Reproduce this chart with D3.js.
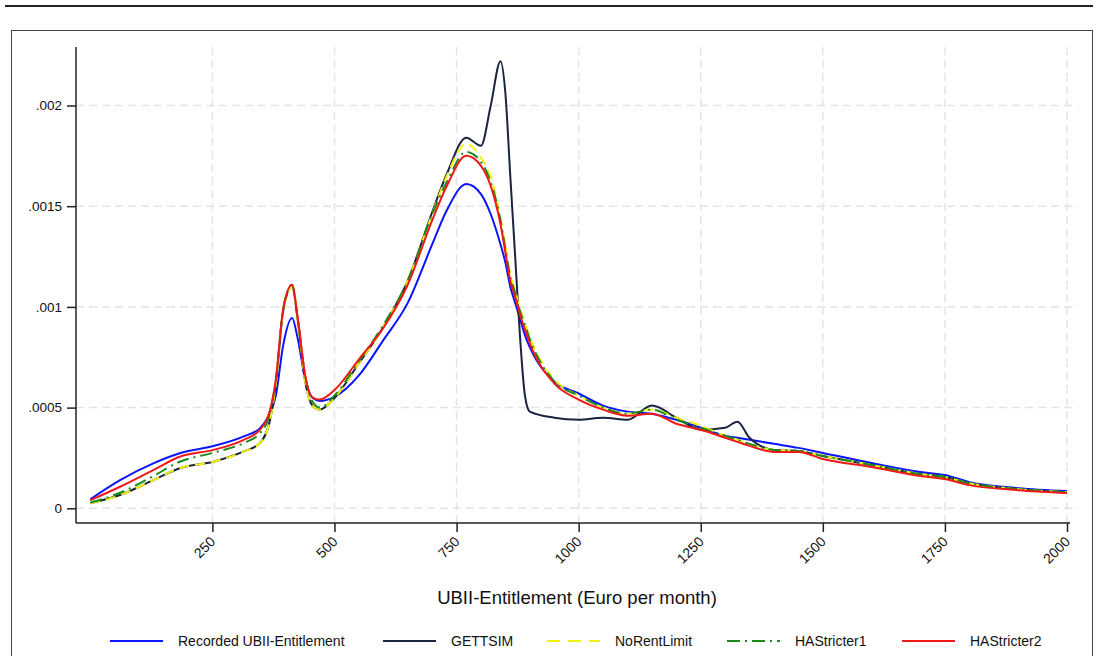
<!DOCTYPE html>
<html>
<head>
<meta charset="utf-8">
<script src="https://cdn.jsdelivr.net/npm/d3@7"></script>
<style>
  html, body { margin: 0; padding: 0; background: #fff; }
  svg { display: block; font-family: "Liberation Sans", Arial, sans-serif; }
</style>
</head>
<body>
<div id="chart"></div>
<script>
// x grid (Euro per month) shared by all series
const grid = [0, 61, 129, 183, 252, 313, 347, 368, 380, 395, 413, 425, 440, 455, 470, 500, 550, 600, 650, 700,
  730, 770, 800, 820, 840, 850, 860, 870, 880, 890, 900, 950, 1000, 1050, 1100, 1150, 1200, 1250, 1300, 1325,
  1350, 1400, 1450, 1500, 1600, 1700, 1750, 1800, 1900, 2000];

// densities
const recorded = [0.000045, 0.000140, 0.000223, 0.000273, 0.000309, 0.000356, 0.000397, 0.000472, 0.00056, 0.00081,
  0.000945, 0.00084, 0.00064, 0.00055, 0.000533, 0.000553, 0.00066, 0.000835, 0.00102, 0.00131,
  0.00148, 0.00161, 0.00156, 0.00146, 0.00131, 0.00122, 0.00110, 0.00102, 0.00094, 0.00086,
  0.00080, 0.00063, 0.00057, 0.00051, 0.00048, 0.00047, 0.00044, 0.00040, 0.00036, 0.00035,
  0.00034, 0.00032, 0.00030, 0.000275, 0.000225, 0.00018, 0.000165, 0.00013, 0.00010, 0.000086];

const gettsim = [0.000025, 0.000066, 0.000140, 0.000199, 0.000231, 0.000281, 0.000323, 0.000438, 0.00062, 0.00098,
  0.00110, 0.00093, 0.00063, 0.00051, 0.00049, 0.000548, 0.00072, 0.00090, 0.00113, 0.00147,
  0.00166, 0.00184, 0.00180, 0.00200, 0.00222, 0.00206, 0.00165, 0.00125, 0.00085, 0.00056,
  0.00048, 0.00045, 0.00044, 0.00045, 0.00044, 0.00051, 0.00045, 0.00039, 0.00040, 0.00043,
  0.00035, 0.00029, 0.000285, 0.00026, 0.000215, 0.00017, 0.000155, 0.000125, 0.000095, 0.00008];

const noRentLimit = [0.000025, 0.000066, 0.000140, 0.000199, 0.000231, 0.000281, 0.000323, 0.000438, 0.00062, 0.00098,
  0.00110, 0.00093, 0.00063, 0.00051, 0.00049, 0.000548, 0.00072, 0.00090, 0.00113, 0.00146,
  0.00165, 0.00181, 0.00174, 0.00165, 0.00144, 0.00130, 0.00116, 0.00108, 0.00099, 0.00092,
  0.00085, 0.00064, 0.00056, 0.00050, 0.00047, 0.00049, 0.00045, 0.00041, 0.00036, 0.00034,
  0.00032, 0.00029, 0.000285, 0.00026, 0.000215, 0.00017, 0.000155, 0.000125, 0.000095, 0.00008];

const haStricter1 = [0.000028, 0.000077, 0.000160, 0.000231, 0.000276, 0.000323, 0.000372, 0.000472, 0.00064, 0.00099,
  0.00111, 0.00094, 0.00066, 0.00053, 0.00050, 0.00056, 0.00073, 0.00091, 0.00113, 0.00146,
  0.00162, 0.00177, 0.00172, 0.00162, 0.00143, 0.00129, 0.00115, 0.00107, 0.00098, 0.00091,
  0.00084, 0.00063, 0.00056, 0.00050, 0.00047, 0.00049, 0.00044, 0.00040, 0.00036, 0.00034,
  0.00032, 0.00029, 0.000285, 0.00026, 0.000215, 0.00017, 0.000155, 0.000125, 0.000095, 0.00008];

const haStricter2 = [0.000040, 0.000107, 0.000190, 0.000256, 0.000290, 0.000339, 0.000389, 0.000488, 0.00064, 0.00099,
  0.00111, 0.00094, 0.00066, 0.00055, 0.00054, 0.000587, 0.00074, 0.000895, 0.00111, 0.00143,
  0.00160, 0.00175, 0.00170, 0.00160, 0.00141, 0.00127, 0.00113, 0.00105, 0.00096, 0.00089,
  0.00082, 0.00062, 0.00054, 0.00049, 0.00046, 0.00047, 0.00042, 0.00039, 0.00035, 0.00033,
  0.00031, 0.00028, 0.00028, 0.000245, 0.000205, 0.00016, 0.000145, 0.000115, 0.00009, 0.000076];

const seriesNames = ['Recorded UBII-Entitlement', 'GETTSIM', 'NoRentLimit', 'HAStricter1', 'HAStricter2'];
const xTicks = [250, 500, 750, 1000, 1250, 1500, 1750, 2000];
const yTicks = [0, 0.0005, 0.001, 0.0015, 0.002];
const yTickLabels = ['0', '.0005', '.001', '.0015', '.002'];
const xTitle = 'UBII-Entitlement (Euro per month)';

const styles = [
  {color: '#0a14ff', dash: null},
  {color: '#1a2440', dash: null},
  {color: '#f2f20a', dash: '10,6'},
  {color: '#1a8a1a', dash: '12,5,2,5'},
  {color: '#f01818', dash: null}
];
const legendDash = [null, null, '13,8', '13,5,2,5', null];

const W = 1099, H = 656;
const svg = d3.select('#chart').append('svg').attr('width', W).attr('height', H);

// page furniture: rule at top and the graph frame
svg.append('line').attr('x1', 5).attr('x2', 1093).attr('y1', 6).attr('y2', 6)
  .attr('stroke', '#222').attr('stroke-width', 2);
svg.append('rect').attr('x', 11.5).attr('y', 30.5).attr('width', 1081).attr('height', 700)
  .attr('fill', 'none').attr('stroke', '#444').attr('stroke-width', 1);

const axisLeftX = 76, axisBottomY = 523, plotTop = 47, plotRight = 1078;
const x = d3.scaleLinear().domain([0, 2000]).range([90.3, 1067]);
const y = d3.scaleLinear().domain([0, 0.002]).range([508.3, 105.5]);

// grid
const gridG = svg.append('g').attr('stroke', '#e4e4e4').attr('stroke-width', 1.5).attr('stroke-dasharray', '8,5');
gridG.selectAll('line.h').data(yTicks).join('line').attr('class', 'h')
  .attr('x1', axisLeftX).attr('x2', plotRight).attr('y1', d => y(d)).attr('y2', d => y(d));
gridG.selectAll('line.v').data(xTicks).join('line').attr('class', 'v')
  .attr('x1', d => x(d)).attr('x2', d => x(d)).attr('y1', plotTop).attr('y2', axisBottomY);

// axes
const xAxis = d3.axisBottom(x).tickValues(xTicks).tickSize(9).tickPadding(3).tickFormat(d3.format('d'));
const xAxisG = svg.append('g').attr('transform', `translate(0,${axisBottomY})`).call(xAxis);
xAxisG.select('.domain').attr('d', `M${axisLeftX},0H${plotRight - 8}`);

const yAxis = d3.axisLeft(y).tickValues(yTicks).tickSize(9).tickPadding(5)
  .tickFormat((d, i) => yTickLabels[i]);
const yAxisG = svg.append('g').attr('transform', `translate(${axisLeftX},0)`).call(yAxis);
yAxisG.select('.domain').attr('d', `M0,${plotTop}V${axisBottomY}`);

[xAxisG, yAxisG].forEach(g => {
  g.select('.domain').attr('stroke', '#222').attr('stroke-width', 1.5);
  g.selectAll('.tick line').attr('stroke', '#222').attr('stroke-width', 1.5);
  g.selectAll('text').attr('fill', '#111').style('font-size', '13.5px')
    .style('font-family', '"Liberation Sans", Arial, sans-serif');
});

// rotated x labels, end of text just below the tick
xAxisG.selectAll('text')
  .attr('x', 0).attr('y', 0).attr('dx', 0).attr('dy', '0.35em')
  .attr('transform', 'translate(0,16) rotate(-45)')
  .attr('text-anchor', 'end')
  .style('font-size', '14px');

// x title
svg.append('text').attr('x', 577).attr('y', 604).attr('text-anchor', 'middle')
  .style('font-size', '18.5px').attr('fill', '#111').text(xTitle);

// curves
const allSeries = [recorded, gettsim, noRentLimit, haStricter1, haStricter2];
const line = d3.line().x(d => x(d[0])).y(d => y(d[1])).curve(d3.curveMonotoneX);
const curvesG = svg.append('g');
allSeries.forEach((vals, i) => {
  const pts = grid.map((g, j) => [g, vals[j]]);
  curvesG.append('path').datum(pts)
    .attr('fill', 'none').attr('stroke', styles[i].color).attr('stroke-width', 2)
    .attr('stroke-dasharray', styles[i].dash).attr('stroke-linejoin', 'round')
    .attr('d', line);
});

// legend
const legendLineX = [110, 383, 547, 727, 902];
const legendTextX = [178, 451, 615, 795, 970];
const legG = svg.append('g');
seriesNames.forEach((name, i) => {
  legG.append('line').attr('x1', legendLineX[i]).attr('x2', legendLineX[i] + 53)
    .attr('y1', 641).attr('y2', 641)
    .attr('stroke', styles[i].color).attr('stroke-width', 2)
    .attr('stroke-dasharray', legendDash[i]);
  legG.append('text').attr('x', legendTextX[i]).attr('y', 646)
    .style('font-size', '14px').attr('fill', '#111').text(name);
});
</script>
</body>
</html>
